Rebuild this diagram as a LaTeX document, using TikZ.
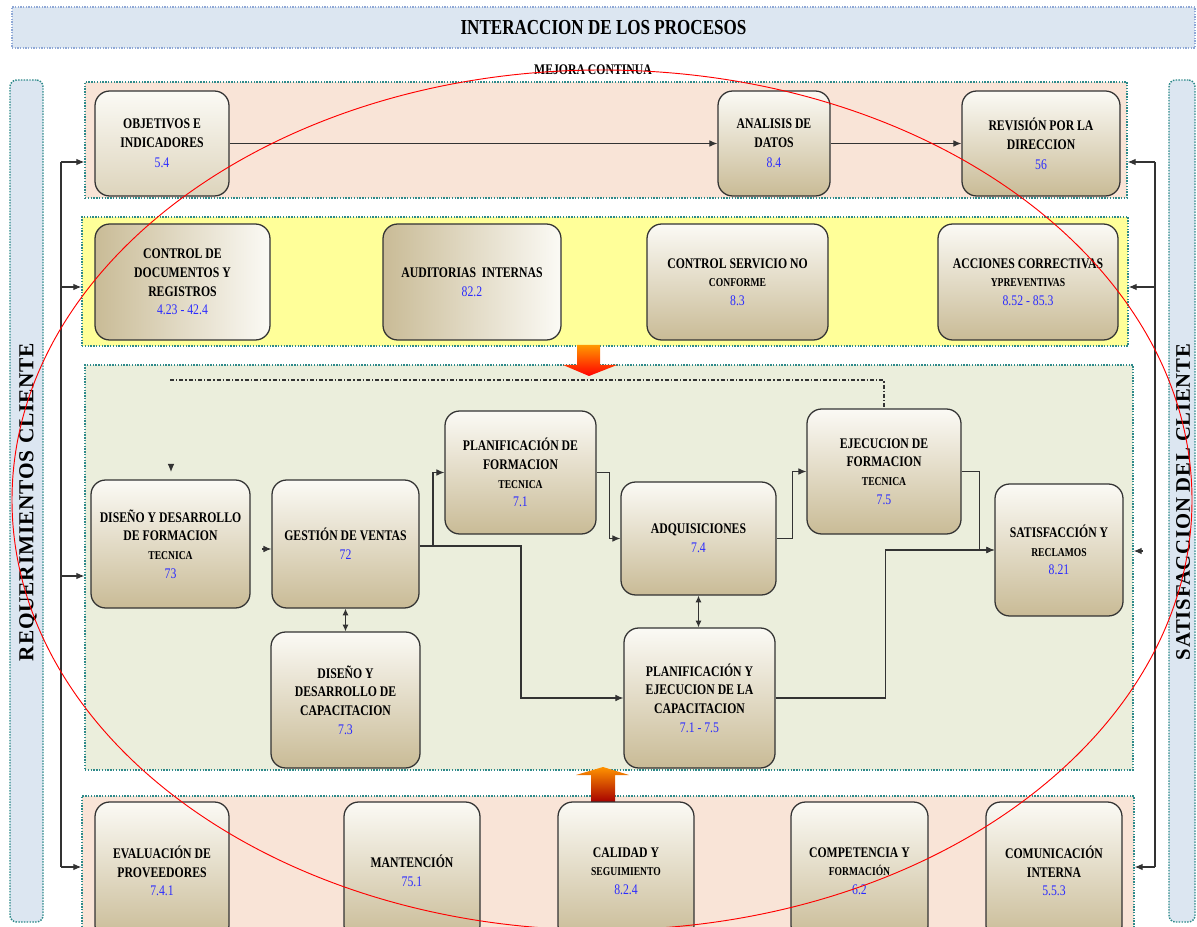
\documentclass[tikz,border=0pt]{standalone}
\usepackage{fontspec}
\setmainfont{Liberation Serif}
\newfontfamily\cfont{Liberation Serif}[FakeStretch=0.8]
\newfontfamily\sidefont{Liberation Serif}[LetterSpace=4]
\usetikzlibrary{arrows.meta,shadings}
\definecolor{tbar}{HTML}{DCE6F1}
\definecolor{tbord}{HTML}{8FA8D6}
\definecolor{dotteal}{HTML}{2E8A8A}
\definecolor{peach}{HTML}{F9E4D7}
\definecolor{yel}{HTML}{FFFF99}
\definecolor{grn}{HTML}{EBEEDC}
\definecolor{boxtop}{HTML}{FBFAF5}
\definecolor{boxbot}{HTML}{C9BB96}
\definecolor{numblue}{HTML}{2B2BFF}
\definecolor{lnc}{HTML}{333333}
\newcommand{\bnum}[1]{{\color{numblue}\mdseries #1}}
\newcommand{\smtx}[1]{{\fontsize{9}{11}\selectfont #1}}
\tikzset{
  boxat/.style n args={4}{at={({(#1+#3)/2},{(#2+#4)/2})}, anchor=center,
     minimum width={(#3-#1)*0.75pt}, minimum height={(#4-#2)*0.75pt}},
  band/.style={draw=dotteal, densely dotted, line width=1.1pt, inner sep=0pt, rectangle},
  sidebar/.style={draw=dotteal, densely dotted, line width=1.1pt, inner sep=0pt, rounded corners=5pt, fill=tbar},
  pbox/.style={draw=lnc, line width=0.95pt, rounded corners=11pt, inner sep=0pt, align=center,
    font=\cfont\bfseries\fontsize{11}{14}\selectfont, top color=boxtop, bottom color=boxbot},
  hbox/.style={pbox, left color=boxbot, right color=boxtop},
  conn/.style={draw=lnc, line width=0.8pt},
  arr/.style={conn, -{Latex[length=6pt,width=5pt]}},
  darr/.style={conn, {Latex[length=5pt,width=4.5pt]}-{Latex[length=5pt,width=4.5pt]}},
}
\begin{document}
\begin{tikzpicture}[x=0.75pt, y=-0.75pt]
\useasboundingbox (0,0) rectangle (1197,927);
\clip (0,0) rectangle (1197,927);
\fill[white] (0,0) rectangle (1197,927);

% title
\node[draw=tbord, densely dotted, line width=1pt, fill=tbar, inner sep=0pt, boxat={12}{7}{1195}{48},
      font=\cfont\bfseries\fontsize{16}{18}\selectfont] (title) {INTERACCION DE LOS PROCESOS};
\node[font=\cfont\bfseries\fontsize{11}{12}\selectfont] (mejora) at (593,70) {MEJORA CONTINUA};

% side bars
\node[sidebar, boxat={10}{80}{43}{922}] (lbar) {};
\node[sidebar, boxat={1169}{80}{1195}{922}] (rbar) {};
\node[rotate=90, font=\sidefont\bfseries\fontsize{16}{17}\selectfont] (ltxt) at (28,502) {REQUERIMIENTOS CLIENTE};
\node[rotate=90, font=\sidefont\bfseries\fontsize{15.5}{17}\selectfont] (rtxt) at (1183,502) {SATISFACCION DEL CLIENTE};

% bands
\node[band, fill=peach, boxat={85}{82}{1127}{198}] (b1) {};
\node[band, fill=yel, boxat={82}{217}{1128}{346}] (b2) {};
\node[band, fill=grn, boxat={85}{365}{1133}{770}] (b3) {};
\node[band, fill=peach, boxat={82}{796}{1134}{945}] (b4) {};

% red block arrows
\shade[top color=orange!80!yellow, bottom color=red] (577,345) -- (600,345) -- (600,365) -- (617,365)
   -- (589,376) -- (563,365) -- (577,365) -- cycle;
\shade[top color=orange!85!yellow, bottom color=red!65!black] (591,802) -- (591,775) -- (576,775)
   -- (603,767) -- (629,775) -- (615,775) -- (615,802) -- cycle;

% top band boxes
\node[pbox, top color=boxtop, bottom color=boxbot!60!boxtop, boxat={95}{91}{229}{196}] (obj) {OBJETIVOS E\\INDICADORES\\[1pt]\bnum{5.4}};
\node[pbox, boxat={718}{91}{830}{196}] (ana) {ANALISIS DE\\DATOS\\[1pt]\bnum{8.4}};
\node[pbox, boxat={962}{91}{1120}{196}] (rev) {REVISIÓN POR LA\\DIRECCION\\[1pt]\bnum{56}};

% yellow band boxes
\node[hbox, boxat={95}{224}{270}{340}] (cdoc) {CONTROL DE\\DOCUMENTOS Y\\REGISTROS\\\bnum{4.23 - 42.4}};
\node[hbox, boxat={383}{224}{561}{340}] (aud) {AUDITORIAS\ \ INTERNAS\\\bnum{82.2}};
\node[pbox, boxat={647}{224}{828}{340}] (csnc) {CONTROL SERVICIO NO\\\smtx{CONFORME}\\\bnum{8.3}};
\node[pbox, boxat={938}{224}{1118}{340}] (acc) {ACCIONES CORRECTIVAS\\\smtx{YPREVENTIVAS}\\\bnum{8.52 - 85.3}};

% green band boxes
\node[pbox, boxat={91}{480}{250}{608}] (dfor) {DISEÑO Y DESARROLLO\\DE FORMACION\\\smtx{TECNICA}\\\bnum{73}};
\node[pbox, boxat={272}{480}{419}{608}] (gest) {GESTIÓN DE VENTAS\\\bnum{72}};
\node[pbox, boxat={445}{411}{596}{534}] (plan) {PLANIFICACIÓN DE\\FORMACION\\\smtx{TECNICA}\\\bnum{7.1}};
\node[pbox, boxat={621}{482}{776}{595}] (adq) {ADQUISICIONES\\\bnum{7.4}};
\node[pbox, boxat={807}{409}{961}{534}] (ejec) {EJECUCION DE\\FORMACION\\\smtx{TECNICA}\\\bnum{7.5}};
\node[pbox, boxat={995}{484}{1123}{616}] (sat) {SATISFACCIÓN Y\\\smtx{RECLAMOS}\\\bnum{8.21}};
\node[pbox, boxat={271}{632}{420}{768}] (dcap) {DISEÑO Y\\DESARROLLO DE\\CAPACITACION\\\bnum{7.3}};
\node[pbox, boxat={624}{628}{775}{768}] (pye) {PLANIFICACIÓN Y\\EJECUCION DE LA\\CAPACITACION\\\bnum{7.1 - 7.5}};

% bottom band boxes
\node[pbox, boxat={95}{802}{229}{940}] (eval) {EVALUACIÓN DE\\PROVEEDORES\\\bnum{7.4.1}};
\node[pbox, boxat={344}{802}{480}{940}] (mant) {MANTENCIÓN\\\bnum{75.1}};
\node[pbox, boxat={558}{802}{694}{940}] (cal) {CALIDAD Y\\\smtx{SEGUIMIENTO}\\\bnum{8.2.4}};
\node[pbox, boxat={791}{802}{928}{940}] (comp) {COMPETENCIA Y\\\smtx{FORMACIÓN}\\\bnum{6.2}};
\node[pbox, boxat={986}{802}{1122}{940}] (comu) {COMUNICACIÓN\\INTERNA\\\bnum{5.5.3}};

% top band arrows
\draw[arr] (obj.east) -- (ana.west);
\draw[arr] (ana.east) -- (rev.west);

% left bracket
\coordinate (L1) at (61,162);
\coordinate (L2) at (61,287);
\coordinate (L3) at (61,576);
\coordinate (L4) at (61,867);
\draw[conn] (L1) -- (L4);
\draw[arr] (L1) -- (b1.west|-L1);
\draw[arr] (L2) -- (b2.west|-L2);
\draw[arr] (L3) -- (b3.west|-L3);
\draw[arr] (L4) -- (b4.west|-L4);

% right bracket
\coordinate (R1) at (1155,162);
\coordinate (R2) at (1155,287);
\coordinate (R3) at (1143,551);
\coordinate (R4) at (1155,867);
\draw[conn] (R1) -- (R4);
\draw[arr] (R1) -- (b1.east|-R1);
\draw[arr] (R2) -- (b2.east|-R2);
\draw[arr] (R3) -- (b3.east|-R3);
\draw[arr] (R4) -- (b4.east|-R4);

% dashed feedback line
\coordinate (dA) at (170,380);
\draw[conn, dash pattern=on 3pt off 1.5pt on 1pt off 1.5pt] (dA) -| (ejec.north);
\coordinate (t0) at (171,464);
\coordinate (t1) at (171,472);
\draw[arr] (t0) -- (t1);

% process flow
\coordinate (g0) at (262,549);
\draw[arr] (g0) -- (gest.west|-g0);
\coordinate (g1) at (433,546);
\coordinate (g2) at (521,546);
\draw[arr] (gest.east|-g1) -- (g1) |- (plan.west);
\draw[arr] (g1) -- (g2) |- (pye.west);
\draw[arr] (plan.east) -- ++(13,0) |- (adq.west);
\draw[arr] (adq.east) -- ++(16,0) |- (ejec.west);
\draw[arr] (ejec.east) -- ++(18,0) |- (sat.west);
\draw[arr] (pye.east) -- ++(110,0) |- (sat.west);
\draw[darr] (gest.south) -- (dcap.north);
\draw[darr] (adq.south) -- (adq.south|-pye.north);

% red ellipse
\draw[red, line width=0.7pt] (602,500) ellipse [x radius=442.5pt, y radius=322.5pt];
\end{tikzpicture}
\end{document}
